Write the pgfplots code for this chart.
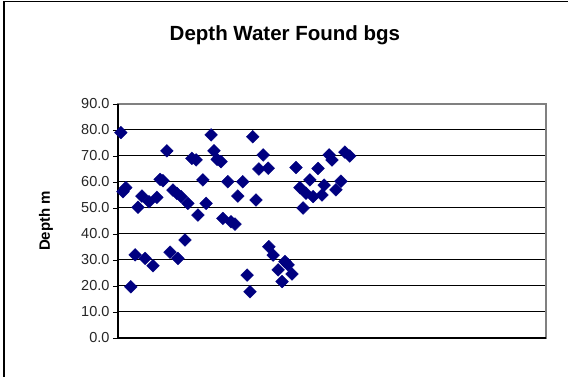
\documentclass[border=0pt]{standalone}
\usepackage{fontspec}
\setmainfont{Liberation Sans}
\usepackage{pgfplots}
\pgfplotsset{compat=1.18}
\definecolor{navy}{HTML}{000080}
\definecolor{framegray}{HTML}{808080}

\begin{document}
\begin{tikzpicture}[x=1pt,y=1pt]
  % page = 568 x 377 px, 1px = 1pt
  \path[use as bounding box] (0,0) rectangle (568,377);
  \draw[line width=1.3pt] (4,0) -- (4,375.5) -- (568,375.5);

  \begin{axis}[
      at={(118pt,39pt)}, anchor=south west,
      width=428pt, height=234pt, scale only axis,
      xmin=0, xmax=120, ymin=0, ymax=90,
      xtick=\empty,
      ytick distance=10,
      yticklabel style={/pgf/number format/.cd, fixed, fixed zerofill, precision=1, assume math mode=true},
      tick label style={font=\fontsize{14.5}{16}\selectfont, text=black!85},
      ytick pos=left,
      tick align=outside,
      major tick length=5pt,
      tick style={black, line width=0.8pt},
      ymajorgrids,
      grid style={black, line width=1pt},
      axis line style={framegray, line width=1.2pt},
      title={Depth Water Found bgs},
      title style={at={(axis description cs:0.39,1.244)}, anchor=base,
        font=\bfseries\fontsize{20.5}{22}\selectfont},
      ylabel={Depth m},
      ylabel style={at={(axis description cs:-0.168,0.5)}, anchor=center,
        font=\bfseries\fontsize{15}{17}\selectfont},
      clip=false,
    ]
    \draw[black, line width=1.4pt] (rel axis cs:0,1) -- (rel axis cs:0,0) -- (rel axis cs:1,0);
    \addplot[only marks, mark=square*, mark size=4.5pt,
      mark options={rotate=45, fill=navy, draw=navy}] coordinates {
      (0.8,79.0) (1.4,56.3) (2.2,57.8) (3.6,19.7) (4.8,32.0) (5.6,50.3)
      (6.7,54.6) (7.6,30.6) (8.7,52.4) (9.8,27.8) (10.9,54.1) (11.8,61.0)
      (12.6,60.5) (13.7,72.0) (14.6,33.0) (15.4,56.9) (16.5,55.6) (16.8,30.6)
      (17.7,54.4) (18.8,37.7) (19.6,51.8) (20.7,69.1) (21.9,68.5) (22.4,47.3)
      (23.8,60.8) (24.7,51.8) (26.1,78.1) (26.9,72.0) (27.8,68.7) (28.9,67.8)
      (29.4,46.0) (30.8,60.1) (31.7,44.7) (32.8,43.8) (33.6,54.6) (35.0,60.1)
      (36.2,24.2) (37.0,17.8) (37.8,77.4) (38.7,53.1) (39.5,65.0) (40.7,70.4)
      (42.1,65.3) (42.3,35.1) (43.5,31.9) (44.9,26.2) (46.0,21.7) (46.8,29.4)
      (47.7,28.1) (48.8,24.6) (49.9,65.6) (51.0,57.8) (51.9,50.0) (52.7,55.7)
      (53.8,60.8) (54.7,54.4) (56.1,65.2) (57.2,55.0) (57.8,58.8) (59.2,70.4)
      (60.0,68.5) (61.1,57.0) (62.5,60.3) (63.6,71.5) (65.0,70.0)
    };
  \end{axis}
\end{tikzpicture}
\end{document}
